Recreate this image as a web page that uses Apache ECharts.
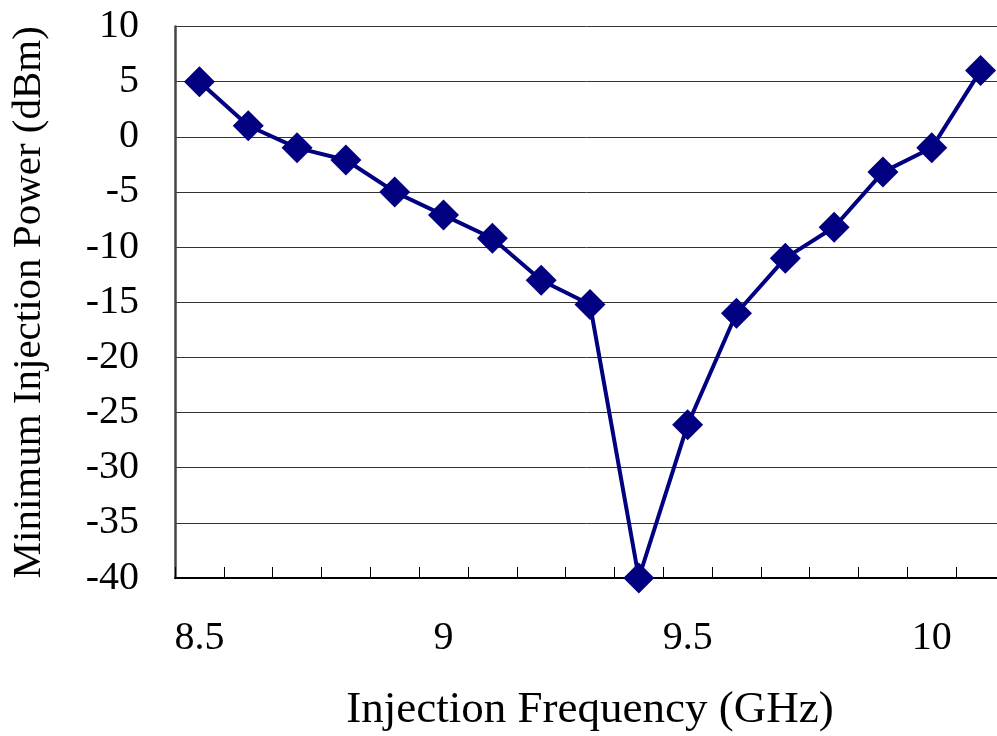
<!DOCTYPE html>
<html>
<head>
<meta charset="utf-8">
<script src="https://cdn.jsdelivr.net/npm/echarts@6/dist/echarts.min.js"></script>
<style>
  html, body { margin: 0; padding: 0; background: #fff; }
  #chart { width: 997px; height: 736px; }
</style>
</head>
<body>
<div id="chart"></div>
<script>
// injection frequency (GHz) and minimum injection power (dBm)
var freqs = ['8.5', '8.6', '8.7', '8.8', '8.9', '9', '9.1', '9.2', '9.3', '9.4',
             '9.5', '9.6', '9.7', '9.8', '9.9', '10', '10.1'];
var power = [5, 1, -1, -2.1, -5, -7.1, -9.2, -13, -15.2, -40,
             -26.1, -16, -11, -8.2, -3.2, -1, 6];
var yTicks = [10, -40, 5]; // max, min, step

var FONT = 'Liberation Serif';

var myChart = echarts.init(document.getElementById('chart'));
myChart.setOption({
  animation: false,
  backgroundColor: '#fff',
  grid: {
    left: 175,
    top: 26.5,
    bottom: 158,
    width: 830,
    outerBoundsMode: 'none'
  },
  xAxis: {
    type: 'category',
    data: freqs,
    boundaryGap: true,
    name: 'Injection Frequency (GHz)',
    nameLocation: 'middle',
    nameGap: 110,
    nameTextStyle: { fontFamily: FONT, fontSize: 45, color: '#000' },
    axisLine: { onZero: false, lineStyle: { color: '#000', width: 2 } },
    axisTick: {
      show: true,
      inside: true,
      length: 11,
      interval: 0,
      lineStyle: { color: '#000', width: 1 }
    },
    axisLabel: {
      interval: 4,
      margin: 40,
      fontFamily: FONT,
      fontSize: 40,
      color: '#000'
    },
    splitLine: { show: false }
  },
  yAxis: {
    type: 'value',
    max: yTicks[0],
    min: yTicks[1],
    interval: yTicks[2],
    name: 'Minimum Injection Power (dBm)',
    nameLocation: 'middle',
    nameGap: 125,
    nameTextStyle: { fontFamily: FONT, fontSize: 41, color: '#000' },
    axisLine: { show: true, lineStyle: { color: '#444', width: 2.5 } },
    axisTick: { show: false },
    axisLabel: {
      margin: 36,
      fontFamily: FONT,
      fontSize: 40,
      color: '#000'
    },
    splitLine: { show: true, lineStyle: { color: '#333', width: 1 } }
  },
  series: [
    {
      type: 'line',
      data: power,
      symbol: 'diamond',
      symbolSize: 31,
      showAllSymbol: true,
      lineStyle: { color: '#000080', width: 4 },
      itemStyle: { color: '#000080' }
    }
  ]
});
</script>
</body>
</html>
